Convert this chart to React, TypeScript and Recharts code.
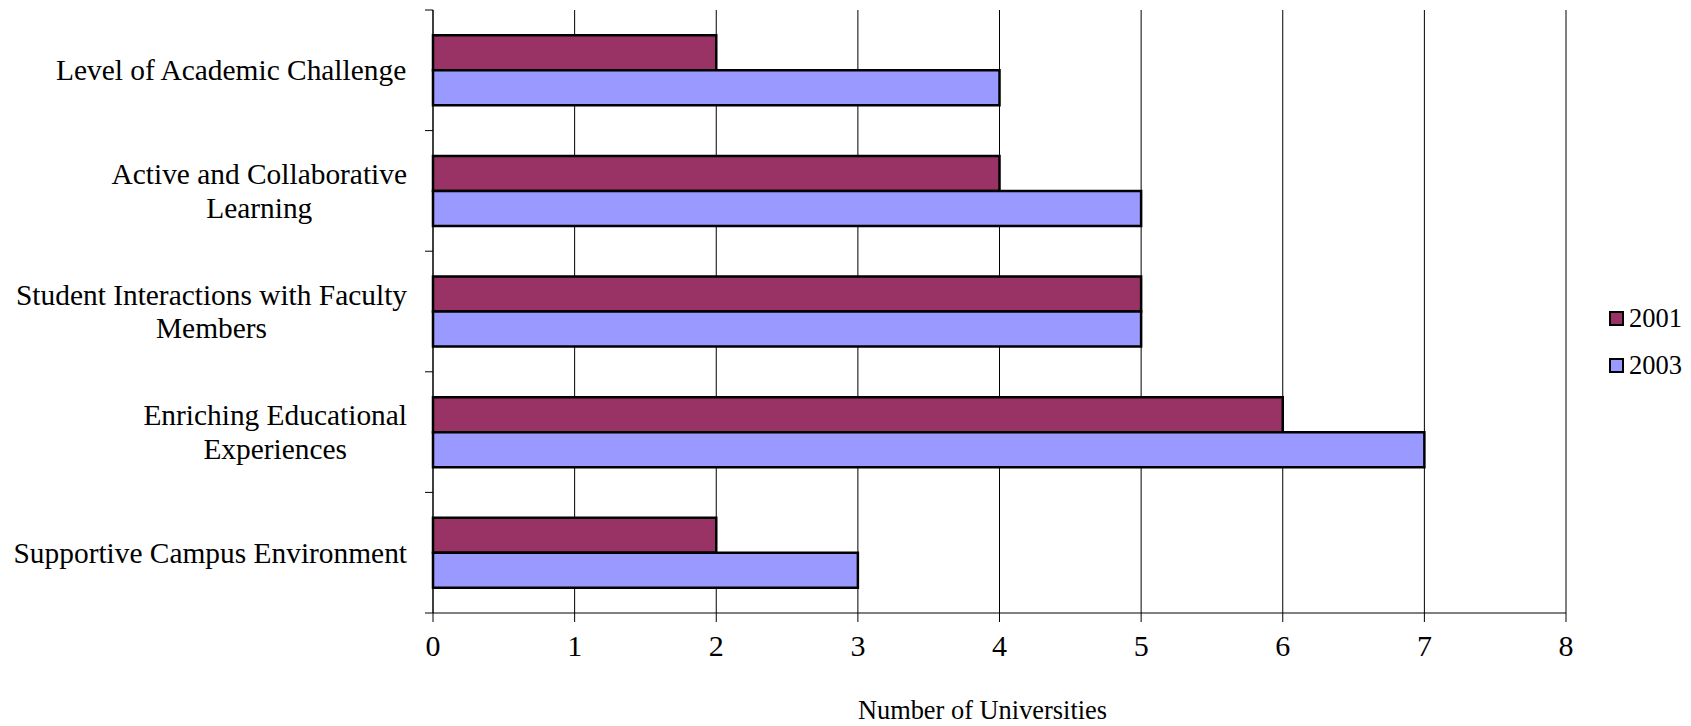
import React from 'react';
import {
  BarChart,
  Bar,
  XAxis,
  YAxis,
  CartesianGrid,
  Label,
} from 'recharts';

const categories = [
  ['Level of Academic Challenge'],
  ['Active and Collaborative', 'Learning'],
  ['Student Interactions with Faculty', 'Members'],
  ['Enriching Educational', 'Experiences'],
  ['Supportive Campus Environment'],
];
const values2001 = [2, 4, 5, 6, 2];
const values2003 = [4, 5, 5, 7, 3];
const seriesNames = ['2001', '2003'];
const seriesColors = ['#993366', '#9999FF'];
const xTicks = [0, 1, 2, 3, 4, 5, 6, 7, 8];

const FONT = '"Liberation Serif", "Times New Roman", serif';
const WIDTH = 1691;
const HEIGHT = 726;
const MARGIN_TOP = 10;
const AXIS_W = 433;
const X_AXIS_H = 113;
const PLOT_H = HEIGHT - MARGIN_TOP - X_AXIS_H;
const BAND = PLOT_H / categories.length;
const LABEL_SIZE = 29.4;

const data = categories.map((lines, i) => ({
  name: lines.join(' '),
  lines,
  v2001: values2001[i],
  v2003: values2003[i],
}));

let ctx: CanvasRenderingContext2D | null = null;
const measure = (text: string) => {
  if (!ctx) ctx = document.createElement('canvas').getContext('2d');
  if (!ctx) return text.length * LABEL_SIZE * 0.45;
  ctx.font = `${LABEL_SIZE}px "Liberation Serif"`;
  return ctx.measureText(text).width;
};

// category label: block right-aligned, lines centred inside it, plus ticks at band edges
const CategoryTick = (props: any) => {
  const { x, y, payload, index } = props;
  const lines: string[] = data[index]?.lines ?? [String(payload.value)];
  const blockW = Math.max(...lines.map(measure));
  const cx = x - blockW / 2;
  const lineH = 33.5;
  const startY = y - ((lines.length - 1) * lineH) / 2;
  const axisX = AXIS_W;
  return (
    <g>
      <line x1={axisX - 8} x2={axisX} y1={y - BAND / 2} y2={y - BAND / 2} stroke="#000" />
      {index === categories.length - 1 && (
        <line x1={axisX - 8} x2={axisX} y1={y + BAND / 2} y2={y + BAND / 2} stroke="#000" />
      )}
      <text
        x={cx}
        y={startY}
        textAnchor="middle"
        dominantBaseline="central"
        fontFamily={FONT}
        fontSize={LABEL_SIZE}
        fill="#000"
      >
        {lines.map((l, i) => (
          <tspan key={i} x={cx} dy={i === 0 ? 0 : lineH}>
            {l}
          </tspan>
        ))}
      </text>
    </g>
  );
};

export default function App() {
  return (
    <div style={{ position: 'absolute', left: 0, top: 0, width: WIDTH, height: HEIGHT, background: '#fff' }}>
      <BarChart
        width={WIDTH}
        height={HEIGHT}
        data={data}
        layout="vertical"
        margin={{ top: MARGIN_TOP, right: 125, left: 0, bottom: 0 }}
        barCategoryGap="21%"
        barGap={0}
      >
        <CartesianGrid horizontal={false} vertical stroke="#000" />
        <XAxis
          type="number"
          domain={[0, 8]}
          ticks={xTicks}
          interval={0}
          height={X_AXIS_H}
          axisLine={{ stroke: '#000' }}
          tickLine={{ stroke: '#000' }}
          tickSize={9}
          tickMargin={13}
          tick={{ fill: '#000', fontFamily: FONT, fontSize: 30 }}
        >
          <Label
            value="Number of Universities"
            position="insideBottom"
            offset={7}
            dx={-17}
            style={{ fill: '#000', fontFamily: FONT, fontSize: 26.4 }}
          />
        </XAxis>
        <YAxis
          type="category"
          dataKey="name"
          width={AXIS_W}
          axisLine={{ stroke: '#000' }}
          tickLine={false}
          tickSize={8}
          tickMargin={18}
          interval={0}
          tick={<CategoryTick />}
        />
        <Bar dataKey="v2001" name={seriesNames[0]} fill={seriesColors[0]} stroke="#000" strokeWidth={2.5} isAnimationActive={false} />
        <Bar dataKey="v2003" name={seriesNames[1]} fill={seriesColors[1]} stroke="#000" strokeWidth={2.5} isAnimationActive={false} />
      </BarChart>
      {seriesNames.map((s, i) => (
        <div
          key={s}
          style={{
            position: 'absolute',
            left: 1609,
            top: 318 + i * 47 - 16,
            height: 32,
            display: 'flex',
            alignItems: 'center',
            fontFamily: FONT,
            fontSize: 26.5,
            color: '#000',
          }}
        >
          <span
            style={{
              display: 'inline-block',
              width: 11,
              height: 11,
              border: '2.5px solid #000',
              background: seriesColors[i],
              marginRight: 5,
            }}
          />
          {s}
        </div>
      ))}
    </div>
  );
}
